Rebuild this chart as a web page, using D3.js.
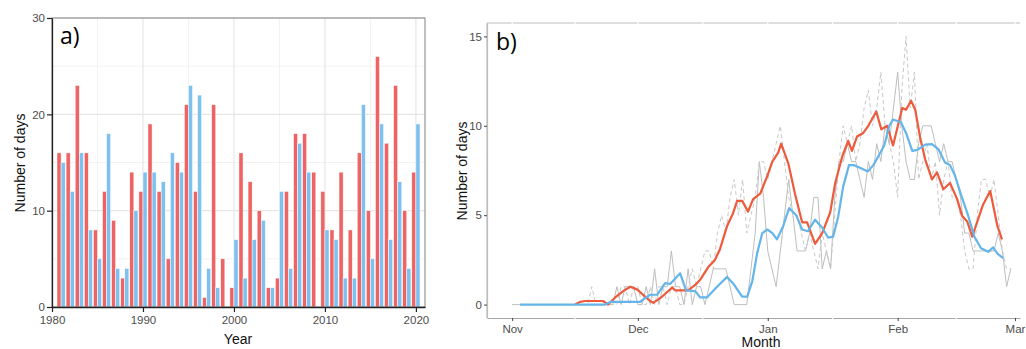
<!DOCTYPE html>
<html>
<head>
<meta charset="utf-8">
<script src="https://cdn.jsdelivr.net/npm/d3@7"></script>
<style>
  body { margin: 0; background: #fff; }
  svg { display: block; font-family: "Liberation Sans", Arial, sans-serif; }
</style>
</head>
<body>
<svg id="chart" width="1026" height="349"></svg>
<script>
// ---- panel a data: number of days per year
const years = [1981, 1982, 1983, 1984, 1985, 1986, 1987, 1988, 1989, 1990,
  1991, 1992, 1993, 1994, 1995, 1996, 1997, 1998, 1999, 2000,
  2001, 2002, 2003, 2004, 2005, 2006, 2007, 2008, 2009, 2010,
  2011, 2012, 2013, 2014, 2015, 2016, 2017, 2018, 2019, 2020]
const redDaysPerYear = [16, 16, 23, 16, 8, 12, 9, 3, 14, 12,
  19, 12, 5, 15, 21, 12, 1, 21, 5, 2,
  16, 13, 10, 2, 3, 12, 18, 18, 14, 12,
  8, 14, 8, 16, 10, 26, 17, 23, 10, 14]
const blueDaysPerYear = [15, 12, 16, 8, 5, 18, 4, 4, 10, 14,
  14, 13, 16, 14, 23, 22, 4, 2, 0, 7,
  3, 7, 9, 2, 12, 4, 17, 14, 0, 8,
  7, 3, 3, 21, 5, 19, 7, 13, 4, 19]
const yearTicks = [1980, 1990, 2000, 2010, 2020]
const countTicksA = [0, 10, 20, 30]

// ---- panel b data: days counted from 1 Nov
const seasonStart = Date.UTC(2018, 10, 1)
// raw daily counts (grey solid), 1 Nov .. 28 Feb
const solidDaily = [0,0,0,0,0,0,0,0,0,0, 0,0,0,0,0,0,0,0,0,0, 0,0,0,0,0,
  1,0,1,1,1,0,0,1,0,2,
  0,1,1,3,1,1,0,2,0,1,
  1,0,1,2,2,2,2,1,0,0,
  0,0,2,4,8,6,3,2,1,3,
  5,7,5,3,3,3,4,6,6,2,
  3,2,6,8,8,9,8,8,7,6,
  8,7,9,8,10,9,11,13,10,8,
  7,7,9,10,10,10,9,8,9,8,
  8,7,6,4,4,3,3,3,3,3,
  3,4,3,1,2]
// raw daily counts (grey dashed)
const dashedDaily = [0,0,0,0,0,0,0,0,0,0, 0,0,0,0,0,0,0,0,0,1, 0,0,0,0,0,0,
  1,1,0,1,1,0,0,1,0,1,
  1,0,1,1,0,0,1,2,1,2,
  3,3,2,4,5,4,6,7,5,7,
  4,5,6,8,8,7,8,9,10,8,
  6,5,5,4,3,4,3,2,4,3,
  2,5,8,10,9,10,8,9,11,12,
  10,11,13,10,9,8,6,12,15,11,
  13,7,8,9,7,8,5,7,8,6,
  6,5,3,2,2,5,7,7,6,7,
  5,3,2,2]
// smoothed red line
const redDays = [15, 16.2, 17.4, 21.7, 22.9, 24.6, 26.5, 28.2, 29.8, 32.9, 33.7, 35.8, 38.2, 38.9, 42,
  43.7, 44.9, 46.8, 48.4, 49.6, 51.3, 52.7, 53.7, 54.9, 56.3, 57.5, 59.2, 60.9, 62.1, 63.5, 64.2,
  65.9, 67.5, 69.2, 70.4, 72.3, 74, 75.9, 77.1, 78.8, 80.2, 81.1, 82.3, 83.8, 85, 86.9, 88.1, 89.5,
  90.9, 93.1, 94, 95.2, 96.2, 97.4, 98.6, 100.2, 101.4, 102.9, 104.5, 106.2, 107.4, 108.6, 109.8,
  112.4, 114.1, 115.8, 116.9]
const redSmooth = [0, 0.15, 0.2, 0.2, 0, 0.4, 0.75, 1.0, 0.85, 0.2, 0.1, 0.45, 0.95, 0.8, 0.8,
  1.1, 1.4, 2.1, 2.5, 3.1, 4.4, 5.1, 5.8, 5.8, 5.2, 5.9, 6.2, 7.2, 8.0, 8.5, 9.0,
  7.9, 6.2, 4.6, 4.6, 3.4, 4.0, 5.15, 6.8, 8.3, 9.15, 8.6, 9.4, 9.6, 10.0, 10.8, 9.8, 10.0,
  8.9, 11.0, 10.9, 11.4, 10.9, 9.3, 8.1, 7.0, 7.4, 6.45, 6.8, 5.9, 4.95, 4.65, 3.8,
  5.6, 6.35, 4.4, 3.65]
// smoothed blue line
const blueDays = [1.9, 22.2, 23.4, 30.5, 32.9, 34.6, 36.5, 37.7, 40.1, 41.5, 43.7, 44.9, 46.5, 48.9,
  51.3, 52.7, 54.9, 56.1, 57.3, 58.5, 59.7, 60.9, 62.1, 63.2, 64.7, 66.1, 67.8, 69.2, 70.6, 72.3,
  74, 75.4, 76.6, 77.8, 79, 80.4, 81.6, 83, 84.9, 86.2, 87.4, 88.8, 90, 90.9, 92.8, 94, 95.5,
  96.7, 98.6, 100.2, 101.7, 103.3, 104.5, 105.7, 107.4, 108.8, 110.3, 111.9, 113.6, 114.8, 115.8, 117.2]
const blueSmooth = [0, 0, 0.15, 0.15, 0.55, 0.55, 1.2, 1.15, 1.75, 0.8, 0.75, 0.4, 0.4, 1.0,
  1.55, 1.2, 0.45, 0.45, 1.3, 2.9, 4.0, 4.2, 4.0, 3.65, 4.4, 5.4, 5.0, 4.2, 4.1, 4.75,
  4.3, 3.75, 3.8, 4.9, 6.6, 7.8, 7.8, 7.65, 7.45, 7.8, 8.3, 8.9, 10.0, 10.35, 10.2, 9.6, 8.6,
  8.65, 8.95, 8.97, 8.7, 7.95, 7.8, 7.2, 5.95, 5.0, 3.8, 3.15, 2.95, 3.2, 2.85, 2.6]
const countTicksB = [0, 5, 10, 15]

const barRed = "#EE6363"
const barBlue = "#7EC0EE"
const lineRed = "#EE5A3C"
const lineBlue = "#63B5EA"

const svg = d3.select("#chart")

// ================= panel a =================
const xa = d3.scaleLinear().domain([1980, 2021]).range([52, 425])
const ya = d3.scaleLinear().domain([0, 30]).range([307, 18])

const ga = svg.append("g")

// grid
ga.selectAll(".vminor").data([1985, 1995, 2005, 2015]).enter().append("line")
  .attr("x1", d => xa(d)).attr("x2", d => xa(d)).attr("y1", 18).attr("y2", 307)
  .attr("stroke", "#F2F2F2").attr("stroke-width", 1)
ga.selectAll(".hminor").data([5, 15, 25]).enter().append("line")
  .attr("x1", 52).attr("x2", 425).attr("y1", d => ya(d)).attr("y2", d => ya(d))
  .attr("stroke", "#F2F2F2").attr("stroke-width", 1)
ga.selectAll(".vmajor").data([1990, 2000, 2010, 2020]).enter().append("line")
  .attr("x1", d => xa(d)).attr("x2", d => xa(d)).attr("y1", 18).attr("y2", 307)
  .attr("stroke", "#E6E6E6").attr("stroke-width", 1.2)
ga.selectAll(".hmajor").data([10, 20, 30]).enter().append("line")
  .attr("x1", 52).attr("x2", 425).attr("y1", d => ya(d)).attr("y2", d => ya(d))
  .attr("stroke", "#E6E6E6").attr("stroke-width", 1.2)

// bars
const half = 0.45
ga.selectAll(".red").data(years).enter().append("rect")
  .attr("x", d => xa(d - half))
  .attr("width", (d) => xa(d) - xa(d - half))
  .attr("y", (d, i) => ya(redDaysPerYear[i]))
  .attr("height", (d, i) => ya(0) - ya(redDaysPerYear[i]))
  .attr("fill", barRed).attr("stroke", "#fff").attr("stroke-width", 0.5)
ga.selectAll(".blue").data(years).enter().append("rect")
  .attr("x", d => xa(d))
  .attr("width", (d) => xa(d + half) - xa(d))
  .attr("y", (d, i) => ya(blueDaysPerYear[i]))
  .attr("height", (d, i) => ya(0) - ya(blueDaysPerYear[i]))
  .attr("fill", barBlue).attr("stroke", "#fff").attr("stroke-width", 0.5)

// border
ga.append("rect").attr("x", 52).attr("y", 18).attr("width", 373).attr("height", 289)
  .attr("fill", "none").attr("stroke", "#808080").attr("stroke-width", 1)

// axes
const axA = ga.append("g").attr("transform", "translate(52,0)")
  .call(d3.axisLeft(ya).tickValues(countTicksA).tickSize(5).tickSizeOuter(0))
const axAx = ga.append("g").attr("transform", "translate(0,307)")
  .call(d3.axisBottom(xa).tickValues(yearTicks).tickFormat(d3.format("d")).tickSize(5).tickSizeOuter(0))
;[axA, axAx].forEach(a => {
  a.select(".domain").attr("stroke", "#222").attr("stroke-width", 1.3)
  a.selectAll(".tick line").attr("stroke", "#222").attr("stroke-width", 1.2)
  a.selectAll("text").attr("fill", "#4D4D4D").attr("font-size", 11.5)
    .attr("font-family", "Liberation Sans, Arial, sans-serif")
})
axA.selectAll("text").attr("x", -7)
axAx.selectAll("text").attr("y", 9)

ga.append("text").attr("transform", "translate(25,163) rotate(-90)")
  .attr("text-anchor", "middle").attr("font-size", 14).attr("fill", "#111").text("Number of days")
ga.append("text").attr("x", 238).attr("y", 344)
  .attr("text-anchor", "middle").attr("font-size", 14).attr("fill", "#111").text("Year")
ga.append("text").attr("x", 60).attr("y", 44)
  .attr("font-family", "Open Sans, sans-serif").attr("font-size", 23).attr("fill", "#000").text("a)")

// ================= panel b =================
const toDate = d => new Date(seasonStart + d * 864e5)
const xb = d3.scaleUtc().domain([toDate(-6), toDate(121.2)]).range([487, 1020])
const yb = d3.scaleLinear().domain([-0.75, 15.75]).range([318, 23])

const gb = svg.append("g")

// frame: top and left lines
gb.append("line").attr("x1", 487).attr("x2", 1020).attr("y1", 23).attr("y2", 23)
  .attr("stroke", "#BDBDBD").attr("stroke-width", 1.2)
gb.append("line").attr("x1", 487).attr("x2", 487).attr("y1", 23).attr("y2", 318)
  .attr("stroke", "#BDBDBD").attr("stroke-width", 1.2)

const line = d3.line().x(d => xb(toDate(d[0]))).y(d => yb(d[1]))

gb.append("path").datum(solidDaily.map((v, i) => [i, v]))
  .attr("d", line).attr("fill", "none").attr("stroke", "#BEBEBE").attr("stroke-width", 1)
gb.append("path").datum(dashedDaily.map((v, i) => [i, v]))
  .attr("d", line).attr("fill", "none").attr("stroke", "#C8C8C8").attr("stroke-width", 1)
  .attr("stroke-dasharray", "4,3")
gb.append("path").datum(d3.zip(redDays, redSmooth))
  .attr("d", line).attr("fill", "none").attr("stroke", lineRed).attr("stroke-width", 2.2)
  .attr("stroke-linejoin", "round")
gb.append("path").datum(d3.zip(blueDays, blueSmooth))
  .attr("d", line).attr("fill", "none").attr("stroke", lineBlue).attr("stroke-width", 2.2)
  .attr("stroke-linejoin", "round")

const axB = gb.append("g").attr("transform", "translate(487,0)")
  .call(d3.axisLeft(yb).tickValues(countTicksB).tickSize(3).tickSizeOuter(0))
const axBx = gb.append("g").attr("transform", "translate(0,318)")
  .call(d3.axisBottom(xb).ticks(d3.utcMonth.every(1)).tickFormat(d3.utcFormat("%b")).tickSize(3).tickSizeOuter(0))
axB.select(".domain").attr("stroke", "#BDBDBD").attr("stroke-width", 1.2)
axBx.select(".domain").attr("stroke", "#A6A6A6").attr("stroke-width", 1.2)
;[axB, axBx].forEach(a => {
  a.selectAll(".tick line").attr("stroke", "#444").attr("stroke-width", 1)
  a.selectAll("text").attr("fill", "#4D4D4D").attr("font-size", 11.5)
    .attr("font-family", "Liberation Sans, Arial, sans-serif")
})
axB.selectAll("text").attr("x", -5)
axBx.selectAll("text").attr("y", 7)

// white grid breaks through the frame lines
const monthTicks = xb.ticks(d3.utcMonth.every(1))
const midMonths = d3.pairs(monthTicks).map(p => new Date((+p[0] + +p[1]) / 2))
gb.selectAll(".gapTop").data(monthTicks.concat(midMonths)).enter().append("line")
  .attr("x1", d => xb(d)).attr("x2", d => xb(d)).attr("y1", 21.5).attr("y2", 24.5)
  .attr("stroke", "#fff").attr("stroke-width", 1.2)
gb.selectAll(".gapBot").data(midMonths).enter().append("line")
  .attr("x1", d => xb(d)).attr("x2", d => xb(d)).attr("y1", 316.5).attr("y2", 319.5)
  .attr("stroke", "#fff").attr("stroke-width", 1.2)

gb.append("text").attr("transform", "translate(467,171) rotate(-90)")
  .attr("text-anchor", "middle").attr("font-size", 14).attr("fill", "#111").text("Number of days")
gb.append("text").attr("x", 761).attr("y", 347)
  .attr("text-anchor", "middle").attr("font-size", 14).attr("fill", "#111").text("Month")
gb.append("text").attr("x", 496).attr("y", 50)
  .attr("font-family", "Open Sans, sans-serif").attr("font-size", 23).attr("fill", "#000").text("b)")
</script>
</body>
</html>
